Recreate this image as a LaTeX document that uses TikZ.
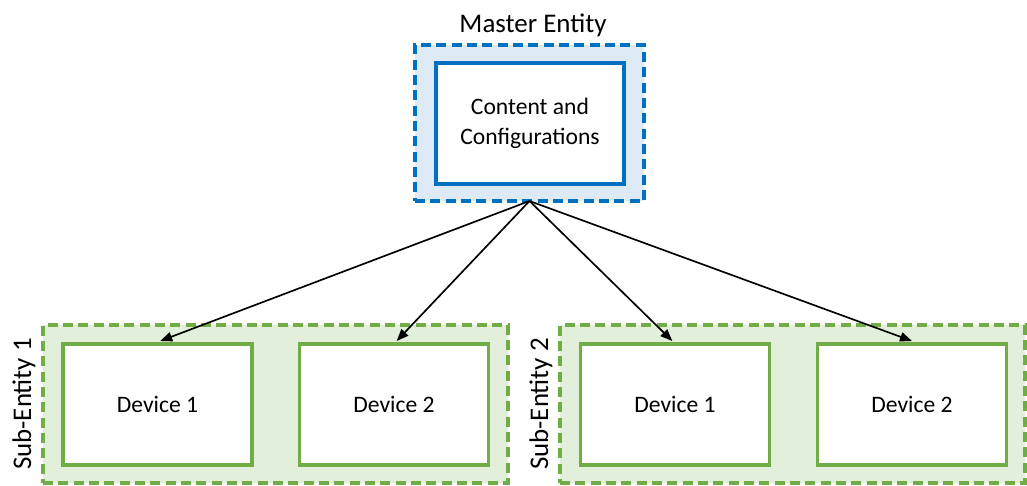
\documentclass[tikz,border=0pt]{standalone}
\usepackage{fontspec}
\setmainfont{Carlito}
\usetikzlibrary{arrows.meta}
\definecolor{mblue}{HTML}{0070C0}
\definecolor{lblue}{HTML}{DEEBF7}
\definecolor{mgreen}{HTML}{70AD47}
\definecolor{lgreen}{HTML}{E2EFDA}
\tikzset{
  outerbox/.style={draw, line width=2.5pt, dash pattern=on 7.5pt off 4pt, inner sep=0pt},
  innerbox/.style={draw, fill=white, line width=2.5pt, inner sep=0pt, font=\fontsize{17.7}{22}\selectfont, align=center},
  biglabel/.style={font=\fontsize{20.2}{24}\selectfont, inner sep=0pt},
  conn/.style={line width=1.25pt, -{Triangle[length=9pt,width=7pt]}}
}
\begin{document}
\begin{tikzpicture}[x=0.75pt,y=-0.75pt]
\useasboundingbox (0,0) rectangle (1027,485);
% master
\node[outerbox, draw=mblue, fill=lblue, minimum width=171.75pt, minimum height=117pt] (master) at (529.5,123) {};
\node[innerbox, draw=mblue, minimum width=141pt, minimum height=90.75pt] (cc) at (530,123.5) {Content and\\Configurations};
\node[biglabel] (mlabel) at (533,25) {Master Entity};
% sub-entities
\node[outerbox, draw=mgreen, fill=lgreen, minimum width=348.75pt, minimum height=118.5pt] (s1) at (275.5,404) {};
\node[outerbox, draw=mgreen, fill=lgreen, minimum width=348.75pt, minimum height=118.5pt] (s2) at (792.5,404) {};
\node[biglabel, rotate=90] (s1label) at (24,404) {Sub-Entity 1};
\node[biglabel, rotate=90] (s2label) at (541,404) {Sub-Entity 2};
\node[innerbox, draw=mgreen, minimum width=141.75pt, minimum height=90.75pt] (d11) at (157.5,404.5) {Device 1};
\node[innerbox, draw=mgreen, minimum width=141.75pt, minimum height=90.75pt] (d12) at (394,404.5) {Device 2};
\node[innerbox, draw=mgreen, minimum width=141.75pt, minimum height=90.75pt] (d21) at (675,404.5) {Device 1};
\node[innerbox, draw=mgreen, minimum width=141.75pt, minimum height=90.75pt] (d22) at (912,404.5) {Device 2};
% connectors
\coordinate (src) at (529.5,201);
\draw[conn] (src) -- ([xshift=2pt,yshift=1pt]d11.north);
\draw[conn] (src) -- ([xshift=2pt,yshift=1pt]d12.north);
\draw[conn] (src) -- ([xshift=-2pt,yshift=1pt]d21.north);
\draw[conn] (src) -- ([yshift=1pt]d22.north);
\end{tikzpicture}
\end{document}
